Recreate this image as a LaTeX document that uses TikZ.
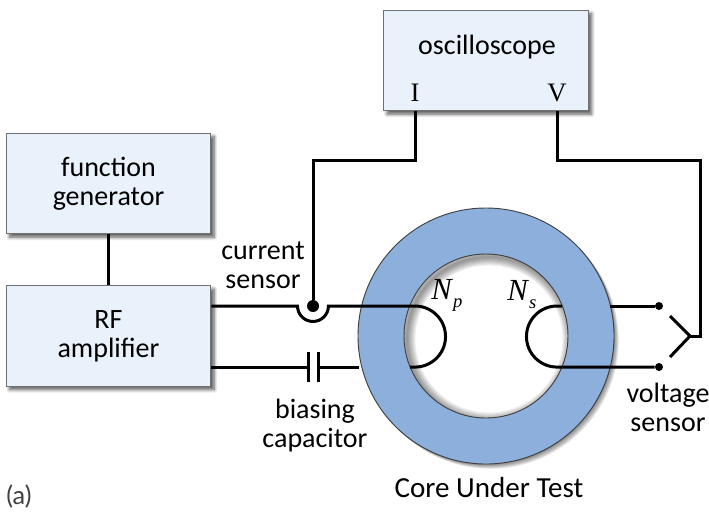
\documentclass[tikz,border=0pt]{standalone}
\usepackage{fontspec}
\setmainfont{Carlito}
\newfontfamily\portfont{Liberation Serif}
\newfontfamily\tagfont{Lato}
\usetikzlibrary{positioning}
\usetikzlibrary{calc}
\usetikzlibrary{shadows}
\usetikzlibrary{shadows.blur}
\definecolor{boxfill}{HTML}{E9F1FA}
\definecolor{boxline}{HTML}{707070}
\definecolor{corefill}{HTML}{8DAFDC}
\tikzset{
  blockbox/.style={draw=boxline,fill=boxfill,line width=0.9pt,minimum width=153.5pt,minimum height=75.5pt,align=center,inner sep=0pt,font=\fontsize{21}{21.75}\selectfont,
    blur shadow={shadow xshift=2.5pt,shadow yshift=-2.5pt,shadow blur steps=8,shadow blur radius=2.5pt,shadow opacity=65}},
  wire/.style={line width=2.25pt,black},
  tag/.style={align=center,inner sep=0pt,font=\fontsize{21}{21.75}\selectfont},
  port/.style={inner sep=0pt,font=\portfont\fontsize{20}{22}\selectfont},
  dotnode/.style={circle,fill=black,inner sep=0pt},
  windlabel/.style={inner sep=0pt,anchor=west,font=\portfont\fontsize{23}{25}\selectfont},
}
\begin{document}
\begin{tikzpicture}[x=0.75pt,y=-0.75pt]
  \useasboundingbox (0,0) rectangle (709,515);
  % boxes
  \node[blockbox] (fungen) at (108.5,183.5) {function\\generator};
  \node[blockbox] (rfamp) at (108.5,336) {RF\\amplifier};
  \node[blockbox] (osc) at (486,60.5) {};
  \node[tag] (osctext) at (487,47) {oscilloscope};
  \node[port] (portI) at (415,93) {I};
  \node[port] (portV) at (557,93) {V};
  % core
  \coordinate (core) at (486,336);
  \foreach \k in {1,...,8}
    \fill[black,opacity=0.07] ($(core)+(\k*0.6,\k*0.6)$) circle[radius=96pt];
  \fill[white] (core) circle[radius=61.5pt];
  \begin{scope}
    \clip (core) circle[radius=61.5pt];
    \foreach \k in {1,...,8}
      \draw[black,opacity=0.06,line width=\k*1.6pt] ($(core)+(3,3)$) circle[radius=61.5pt];
  \end{scope}
  \fill[corefill,even odd rule] (core) circle[radius=96pt] (core) circle[radius=61.5pt];
  \draw[black!75,line width=0.7pt] (core) circle[radius=96pt] (core) circle[radius=61.5pt];
  % points on the wires
  \node[dotnode,minimum size=9pt] (sensedot) at (313,306) {};
  \node[dotnode,minimum size=6pt] (vtop) at (659,306) {};
  \node[dotnode,minimum size=6pt] (vbot) at (659,367) {};
  \coordinate (lefttop) at (rfamp.east |- sensedot);
  \coordinate (leftbot) at (rfamp.east |- vbot);
  \coordinate (capl) at (308,367);
  \coordinate (capr) at (318,367);
  \coordinate (fork) at (690,336);
  % wires
  \draw[wire] (fungen) -- (rfamp);
  \draw[wire] (lefttop) -- (297.5,306) arc[start angle=180,end angle=360,radius=11.6pt] -- (415,306) arc[start angle=90,end angle=-90,radius=22.9pt] -- (410,367);
  \draw[wire] (leftbot) -- (capl);
  \draw[wire] (capr) -- (359,367);
  \draw[wire] (capl)++(0,-15) -- ++(0,30);
  \draw[wire] (capr)++(0,-15) -- ++(0,30);
  \draw[wire] (vtop) -- (610,306);
  \draw[wire] (562,306) -- (557,306) arc[start angle=90,end angle=270,radius=22.9pt] -- (vbot);
  \draw[wire] (portI.south |- osc.south) |- (313,160) -- (sensedot);
  \draw[wire] (portV.south |- osc.south) |- (700,160) |- (fork);
  \draw[wire] (670,316) -- (fork) -- (670,357);
  % labels
  \node[tag] (currentlabel) at (263,265) {current\\sensor};
  \node[tag] (biaslabel) at (315,426) {biasing\\capacitor};
  \node[tag] (voltagelabel) at (668,407) {voltage\\sensor};
  \node[tag,font=\fontsize{21.8}{22}\selectfont] (corelabel) at (489,488) {Core Under Test};
  \node[inner sep=0pt,font=\tagfont\fontsize{19}{22}\selectfont,text=black!75] (partlabel) at (19,497) {(a)};
  \node[windlabel] (nplabel) at (431,295) {\textit{N}\raisebox{-6pt}{\fontsize{14}{15}\selectfont\textit{p}}};
  \node[windlabel] (nslabel) at (507,295) {\textit{N}\raisebox{-6pt}{\fontsize{14}{15}\selectfont\textit{s}}};
\end{tikzpicture}
\end{document}
